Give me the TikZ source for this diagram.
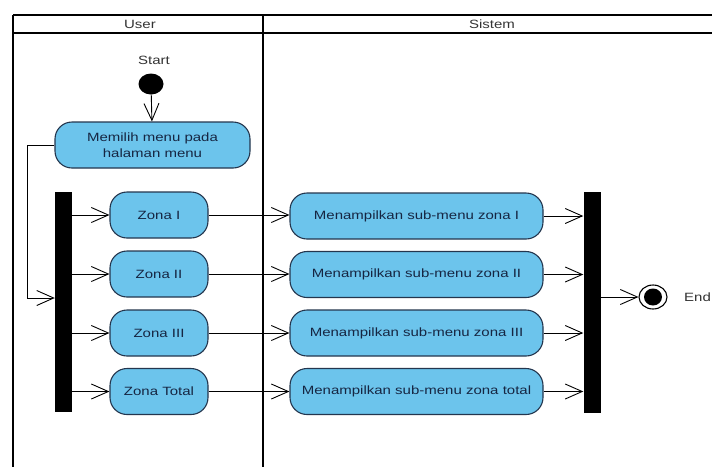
\documentclass[tikz,border=0pt]{standalone}
\usepackage{fontspec}
\setmainfont{Liberation Sans}[FakeStretch=1.25]
\usetikzlibrary{arrows.meta,shapes.geometric}
\definecolor{actfill}{RGB}{108,196,236}
\definecolor{actline}{RGB}{36,54,78}
\definecolor{acttext}{RGB}{22,38,66}
\tikzset{
  lbl/.style={font=\fontsize{12}{14}\selectfont, text=black!80, inner sep=0pt},
  act/.style={draw=actline, line width=1.1pt, fill=actfill, rounded corners=17pt,
    text=acttext, font=\fontsize{12}{16}\selectfont, align=center,
    minimum height=46pt, inner sep=0pt},
  bar/.style={fill=black, draw=none, inner sep=0pt, minimum width=17pt},
  flow/.style={line width=0.9pt, -{Straight Barb[length=17pt,width=15pt,line width=0.9pt]}},
  lane/.style={line width=1.8pt},
}
\begin{document}
\begin{tikzpicture}[x=1pt,y=-1pt]
  \useasboundingbox[fill=white] (0,0) rectangle (712,467);

  % swimlane frame
  \draw[lane] (13,15) -- (712,15);
  \draw[lane] (13,33) -- (712,33);
  \draw[lane] (13,15) -- (13,467);
  \draw[lane] (263,15) -- (263,467);
  \node[lbl] (hUser) at (140,24) {User};
  \node[lbl] (hSis) at (492,24) {Sistem};

  % initial node
  \node[lbl] (startlbl) at (154,60) {Start};
  \node[ellipse, fill=black, inner sep=0pt, minimum width=25pt, minimum height=21pt] (start) at (151,84) {};

  % choose menu
  \node[act, minimum width=195pt] (pilih) at (152.5,145) {Memilih menu pada\\halaman menu};

  % fork bar
  \node[bar, minimum height=220pt] (fork) at (63.5,302) {};

  % zone actions (user)
  \node[act, minimum width=98pt] (z1) at (159,215) {Zona I};
  \node[act, minimum width=98pt] (z2) at (159,274) {Zona II};
  \node[act, minimum width=98pt] (z3) at (159,333) {Zona III};
  \node[act, minimum width=98pt] (z4) at (159,391.5) {Zona Total};

  % system actions
  \node[act, minimum width=253pt] (s1) at (416.5,216) {Menampilkan sub-menu zona I};
  \node[act, minimum width=253pt] (s2) at (416.5,274.5) {Menampilkan sub-menu zona II};
  \node[act, minimum width=253pt] (s3) at (416.5,333) {Menampilkan sub-menu zona III};
  \node[act, minimum width=253pt] (s4) at (416.5,391.5) {Menampilkan sub-menu zona total};

  % join bar
  \node[bar, minimum height=221pt] (join) at (592,302.5) {};

  % final node
  \node[ellipse, draw=black, line width=1.1pt, fill=white, inner sep=0pt, minimum width=28pt, minimum height=24pt] (end) at (653,297) {};
  \node[ellipse, fill=black, inner sep=0pt, minimum width=18pt, minimum height=17pt] (endin) at (653,297) {};
  \node[lbl, anchor=west] (endlbl) at (684,297) {End};

  % control flows
  \draw[flow] (start) -- (pilih);
  \coordinate (loopA) at (27,145);
  \coordinate (loopB) at (27,298);
  \draw[flow] (pilih.west) -- (loopA) -- (loopB) -- (fork.west |- loopB);

  \foreach \z/\s in {z1/s1, z2/s2, z3/s3, z4/s4}{
    \draw[flow] (fork.east |- \z.west) -- (\z.west);
    \draw[flow] (\z.east) -- (\s.west |- \z.east);
    \draw[flow] (\s.east) -- (join.west |- \s.east);
  }
  \draw[flow] (join.east |- end.west) -- (end.west);
\end{tikzpicture}
\end{document}
